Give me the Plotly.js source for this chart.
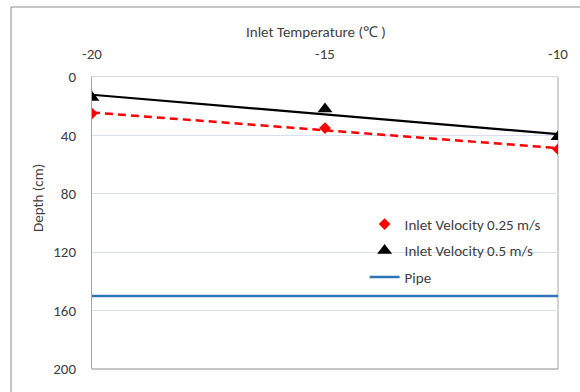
<!DOCTYPE html>
<html>
<head>
<meta charset="utf-8">
<script src="https://cdn.plot.ly/plotly-3.0.1.min.js"></script>
<style>html,body{margin:0;padding:0;background:#fff;}#chart{width:580px;height:392px;}</style>
</head>
<body>
<div id="chart"></div>
<script>
// Data
var temperatures = [-20, -15, -10];
var depthV025 = [25, 35, 49.5];   // Inlet Velocity 0.25 m/s
var depthV05 = [14, 22, 41];      // Inlet Velocity 0.5 m/s
var pipeX = [-20, -10];
var pipeDepth = [150, 150];
var yTicks = [0, 40, 80, 120, 160, 200];
var xTicks = [-20, -15, -10];

// Linear (least-squares) trendline, as in the spreadsheet chart
function linFit(xs, ys) {
  var n = xs.length, sx = 0, sy = 0, sxx = 0, sxy = 0;
  for (var i = 0; i < n; i++) { sx += xs[i]; sy += ys[i]; sxx += xs[i]*xs[i]; sxy += xs[i]*ys[i]; }
  var b = (n*sxy - sx*sy) / (n*sxx - sx*sx);
  var a = (sy - b*sx) / n;
  return xs.map(function (x) { return a + b*x; });
}

var font = "Carlito, Lato, 'Open Sans', sans-serif";
var fs = 15;

var traces = [
  { x: temperatures, y: linFit(temperatures, depthV025), mode: 'lines', showlegend: false, hoverinfo: 'skip',
    line: { color: '#ff0000', width: 2.5, dash: '8px,5px' } },
  { x: temperatures, y: linFit(temperatures, depthV05), mode: 'lines', showlegend: false, hoverinfo: 'skip',
    line: { color: '#000000', width: 2.2 } },
  { x: temperatures, y: depthV025, mode: 'markers', name: 'Inlet Velocity 0.25 m/s', legendgroup: 'a',
    marker: { symbol: 'diamond', size: 9, color: '#ff0000' } },
  { x: temperatures, y: depthV05, mode: 'markers', name: 'Inlet Velocity 0.5 m/s', legendgroup: 'b',
    marker: { symbol: 'triangle-up', size: 13, color: '#000000' } },
  { x: pipeX, y: pipeDepth, mode: 'lines', name: 'Pipe', legendgroup: 'c',
    line: { color: '#2e75b6', width: 2.5 } }
];

var layout = {
  width: 580, height: 392,
  margin: { l: 92, r: 22, t: 77, b: 23 },
  paper_bgcolor: '#ffffff', plot_bgcolor: '#ffffff',
  font: { family: font, size: fs, color: '#404040' },
  showlegend: true,
  legend: { x: 0.585, y: 0.552, xanchor: 'left', yanchor: 'top', bgcolor: 'rgba(255,255,255,0)',
            traceorder: 'grouped', tracegroupgap: 4, font: { family: font, size: fs, color: '#404040' } },
  xaxis: {
    side: 'top', range: [-20, -10], tickvals: xTicks, ticktext: xTicks.map(String),
    showgrid: false, zeroline: false, showline: true, linecolor: '#d9d9d9', linewidth: 1,
    ticks: '', ticklabelstandoff: 11, tickfont: { family: font, size: fs, color: '#404040' }
  },
  yaxis: {
    range: [200, 0], tickvals: yTicks, ticktext: yTicks.map(String),
    showgrid: true, gridcolor: '#d6e0f0', gridwidth: 1, zeroline: false,
    showline: true, linecolor: '#a6a6a6', linewidth: 1,
    ticks: '', ticklabelstandoff: 12, tickfont: { family: font, size: fs, color: '#404040' }
  },
  shapes: [
    { type: 'line', xref: 'paper', yref: 'paper', x0: 1, x1: 1, y0: 0, y1: 1, layer: 'below', line: { color: '#a6a6a6', width: 1 } },
    { type: 'line', xref: 'paper', yref: 'paper', x0: 0, x1: 1, y0: 0, y1: 0, layer: 'below', line: { color: '#8c8c8c', width: 1.2 } },
    { type: 'rect', xref: 'paper', yref: 'paper', x0: -0.1738, x1: 1.3, y0: -0.3, y1: 1.2397, layer: 'below', line: { color: '#8c8c8c', width: 1 } }
  ],
  annotations: [
    { text: 'Inlet Temperature (℃ )', xref: 'paper', yref: 'paper', x: 0.4807, y: 1.154, showarrow: false,
      xanchor: 'center', yanchor: 'middle', font: { family: font, size: fs, color: '#404040' } },
    { text: 'Depth (cm)', xref: 'paper', yref: 'paper', x: -0.1159, y: 0.5856, showarrow: false, textangle: -90,
      xanchor: 'center', yanchor: 'middle', font: { family: font, size: fs, color: '#404040' } }
  ]
};

Plotly.newPlot('chart', traces, layout, { displayModeBar: false, staticPlot: true });
</script>
</body>
</html>
